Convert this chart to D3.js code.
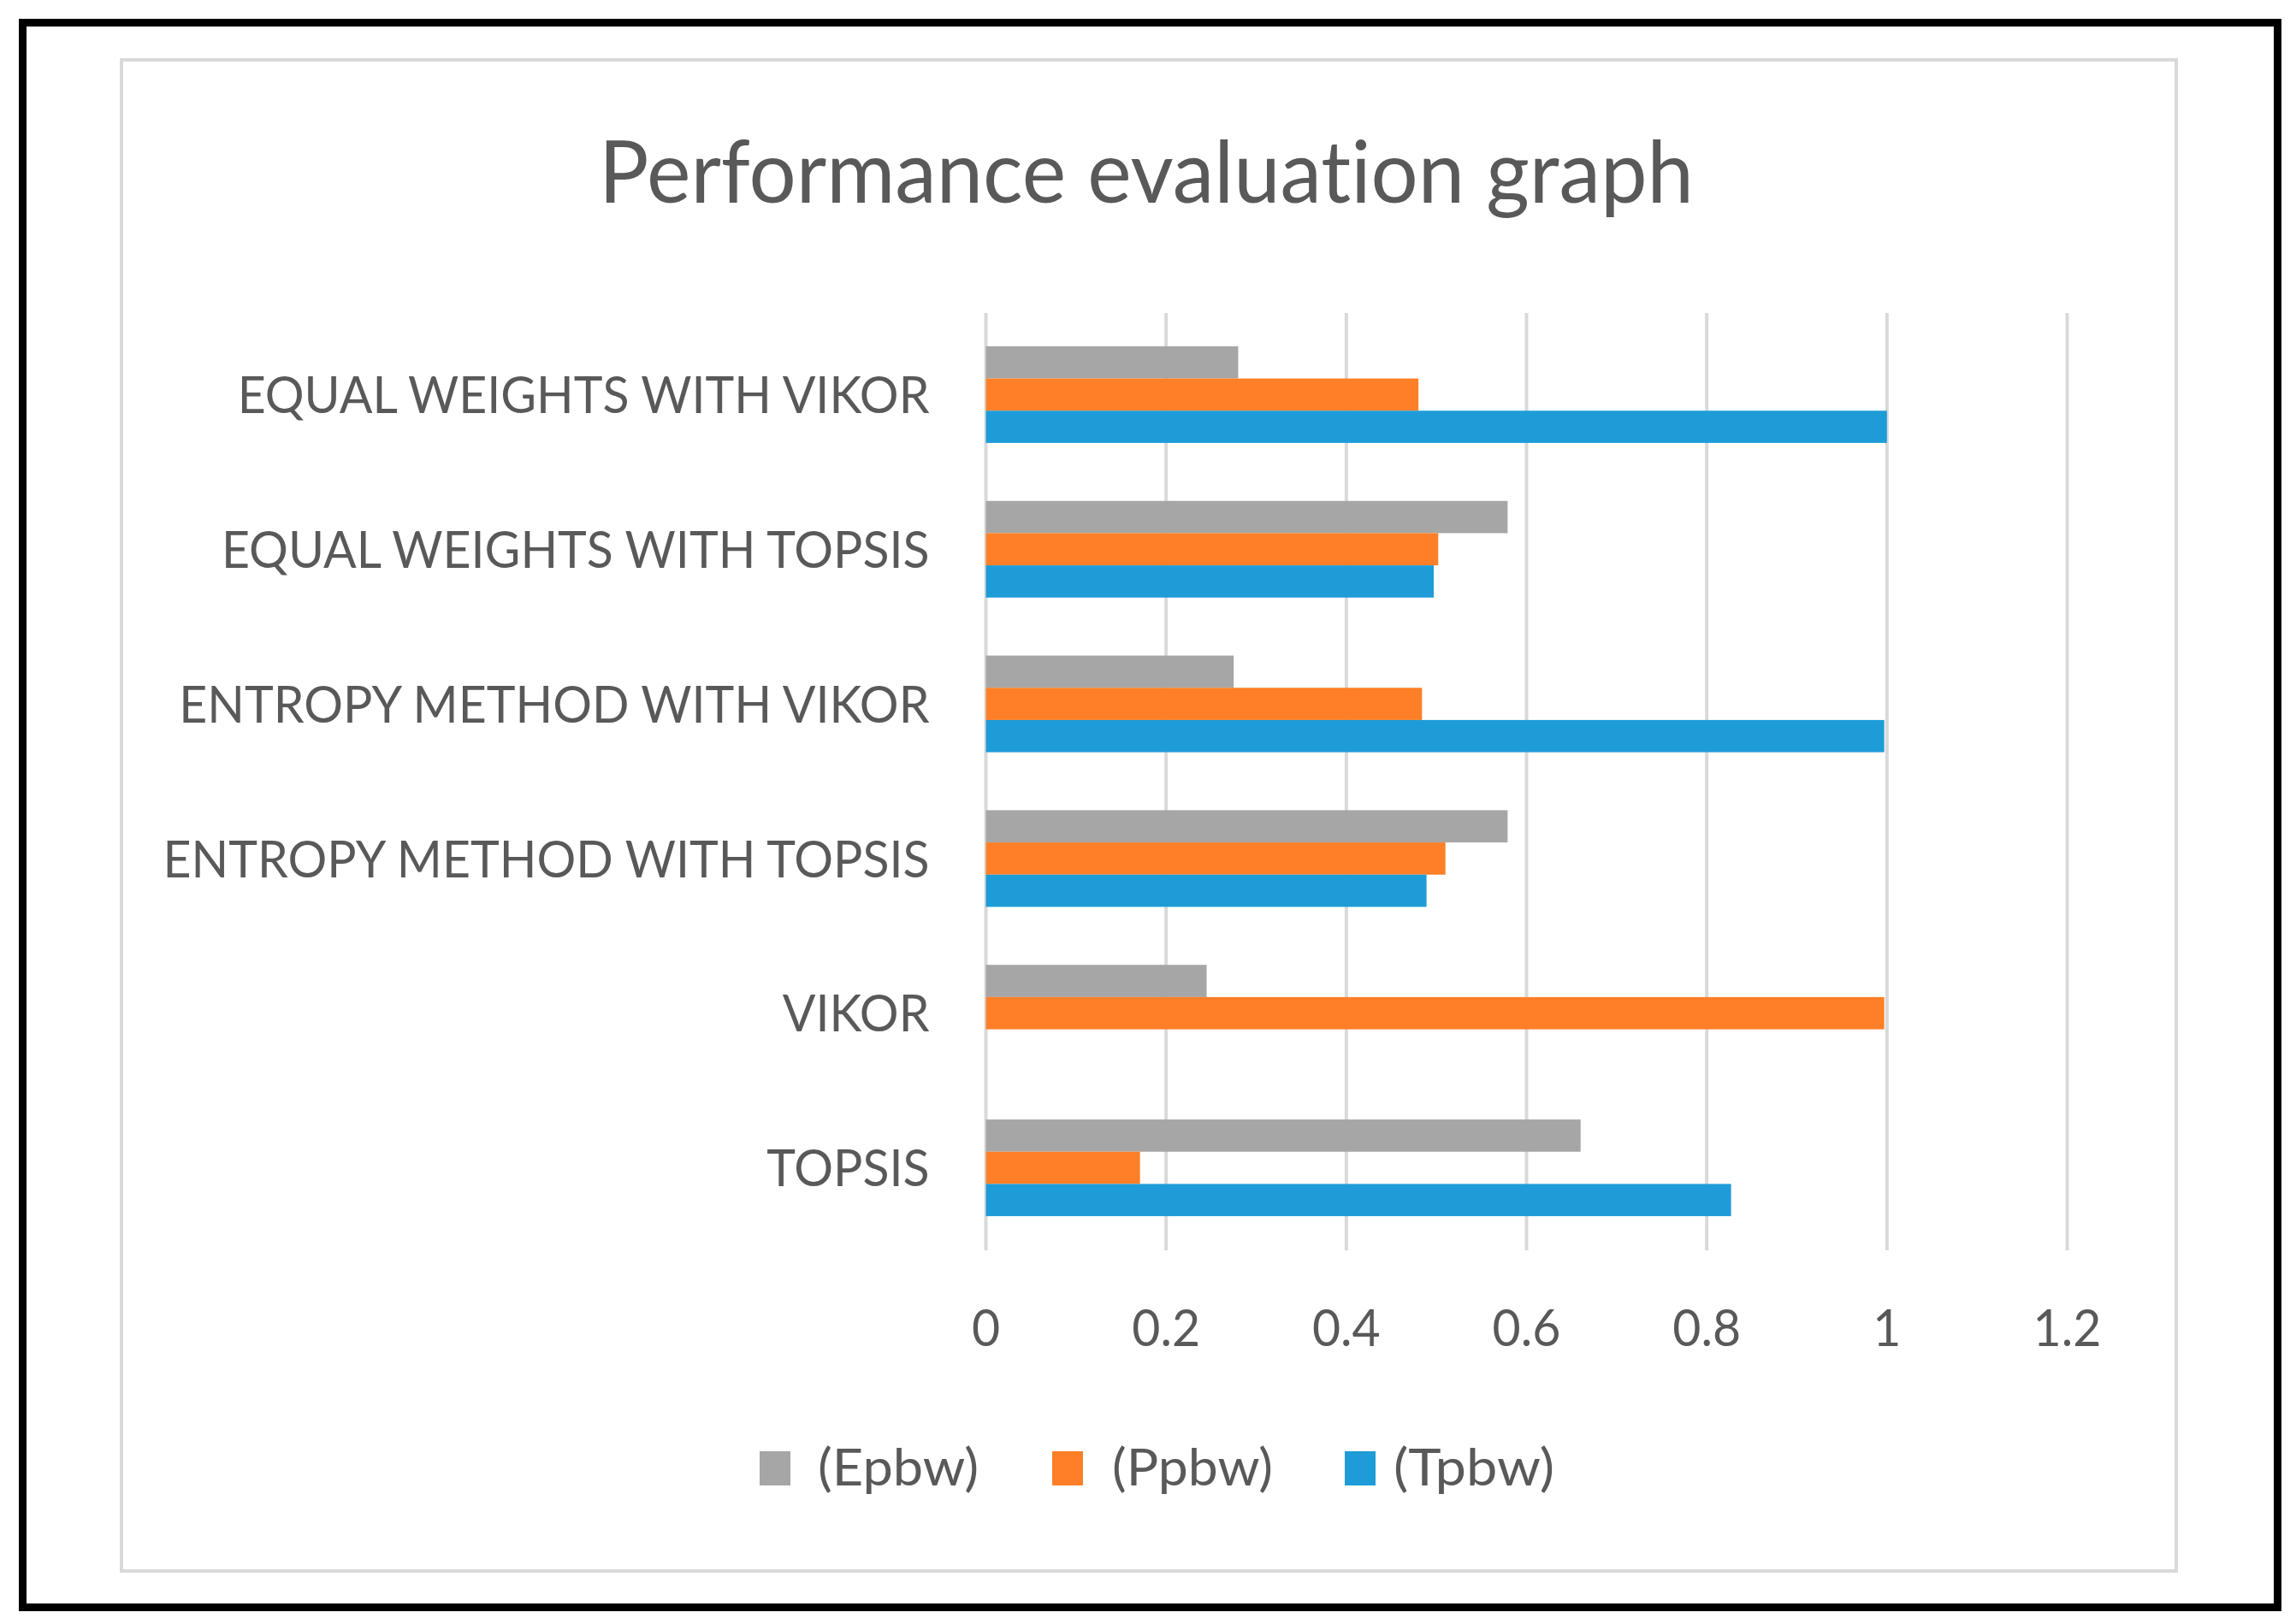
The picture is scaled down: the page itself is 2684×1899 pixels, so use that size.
<!DOCTYPE html>
<html>
<head>
<meta charset="utf-8">
<script src="https://cdn.jsdelivr.net/npm/d3@7/dist/d3.min.js"></script>
<style>
  html, body { margin: 0; padding: 0; background: #ffffff; }
  svg { display: block; }
  text { font-family: Lato, "Open Sans", sans-serif; fill: #595959; font-variant-ligatures: none; font-feature-settings: "liga" 0, "clig" 0; }
</style>
</head>
<body>
<script>
// ---- data ----
const categories = [
  "EQUAL WEIGHTS WITH VIKOR",
  "EQUAL WEIGHTS WITH TOPSIS",
  "ENTROPY METHOD WITH VIKOR",
  "ENTROPY METHOD WITH TOPSIS",
  "VIKOR",
  "TOPSIS"
];
const seriesNames = ["(Epbw)", "(Ppbw)", "(Tpbw)"];
const epbw = [0.28, 0.579, 0.275, 0.579, 0.245, 0.66];
const ppbw = [0.48, 0.502, 0.484, 0.51, 0.997, 0.171];
const tpbw = [1.0, 0.497, 0.997, 0.489, 0, 0.827];
const xTicks = [0, 0.2, 0.4, 0.6, 0.8, 1, 1.2];
const seriesColors = ["#A6A6A6", "#FE7F27", "#1E9CD8"];
const title = "Performance evaluation graph";

const seriesValues = [epbw, ppbw, tpbw];

// ---- layout ----
const W = 2684, H = 1899;
const svg = d3.select("body").append("svg").attr("width", W).attr("height", H);

// outer frame (black) and chart area frame (light grey)
svg.append("rect").attr("x", 26.5).attr("y", 26.5).attr("width", 2636).attr("height", 1853)
  .attr("fill", "#fff").attr("stroke", "#000").attr("stroke-width", 9);
svg.append("rect").attr("x", 142).attr("y", 70).attr("width", 2402).attr("height", 1767)
  .attr("fill", "#fff").attr("stroke", "#D9D9D9").attr("stroke-width", 4);

const x = d3.scaleLinear().domain([0, 1.2]).range([1152.5, 2416.5]);
const y = d3.scaleBand().domain(categories).range([371, 1456])
  .paddingInner(0.375).paddingOuter(0.1875);
const ySub = d3.scaleBand().domain(seriesNames).range([0, y.bandwidth()]);

const labelSize = 60.7, titleSize = 100.5;
const capRatio = 0.7165;

// gridlines
svg.append("g").selectAll("line").data(xTicks).join("line")
  .attr("x1", d => x(d)).attr("x2", d => x(d))
  .attr("y1", 366).attr("y2", 1462)
  .attr("stroke", "#D9D9D9").attr("stroke-width", 4);

// bars
const rows = categories.map((c, i) => ({cat: c, vals: seriesNames.map((s, j) => ({s, j, v: seriesValues[j][i]}))}));
const grp = svg.append("g").selectAll("g").data(rows).join("g")
  .attr("transform", d => `translate(0,${y(d.cat)})`);
grp.selectAll("rect").data(d => d.vals).join("rect")
  .attr("x", x(0))
  .attr("y", d => ySub(d.s))
  .attr("width", d => x(d.v) - x(0))
  .attr("height", ySub.bandwidth())
  .attr("fill", d => seriesColors[d.j]);

function squeeze(sel, factor) {
  sel.each(function() {
    const len = this.getComputedTextLength();
    d3.select(this).attr("textLength", len * factor).attr("lengthAdjust", "spacingAndGlyphs");
  });
}

// category labels
const catLabels = svg.append("g").selectAll("text").data(categories).join("text")
  .attr("x", x(0) - 66)
  .attr("y", d => y(d) + y.bandwidth() / 2 + labelSize * capRatio / 2)
  .attr("text-anchor", "end")
  .attr("font-size", labelSize)
  .text(d => d);

let maxLen = 0;
catLabels.each(function() { maxLen = Math.max(maxLen, this.getComputedTextLength()); });
const factor = Math.min(1, 896 / maxLen);
squeeze(catLabels, factor);

// x axis tick labels
const tickLabels = svg.append("g").selectAll("text").data(xTicks).join("text")
  .attr("x", d => x(d))
  .attr("y", 1574)
  .attr("text-anchor", "middle")
  .attr("font-size", labelSize)
  .text(d => d3.format("~g")(d));
squeeze(tickLabels, factor);

// title
const t = svg.append("text")
  .attr("x", 1340).attr("y", 237)
  .attr("text-anchor", "middle")
  .attr("font-size", titleSize)
  .text(title);
t.attr("textLength", 1280).attr("lengthAdjust", "spacingAndGlyphs");

// legend
const legendSquareX = [888, 1230, 1572];
const legendTextX = [956, 1300, 1629];
const legend = svg.append("g");
const items = legend.selectAll("g").data(seriesNames).join("g");
items.append("rect").attr("x", (d, i) => legendSquareX[i]).attr("y", 1697).attr("width", 36).attr("height", 40)
  .attr("fill", (d, i) => seriesColors[i]);
items.append("text").attr("x", (d, i) => legendTextX[i]).attr("y", 1737)
  .attr("font-size", labelSize)
  .attr("textLength", 188).attr("lengthAdjust", "spacingAndGlyphs")
  .text(d => d);
</script>
</body>
</html>
